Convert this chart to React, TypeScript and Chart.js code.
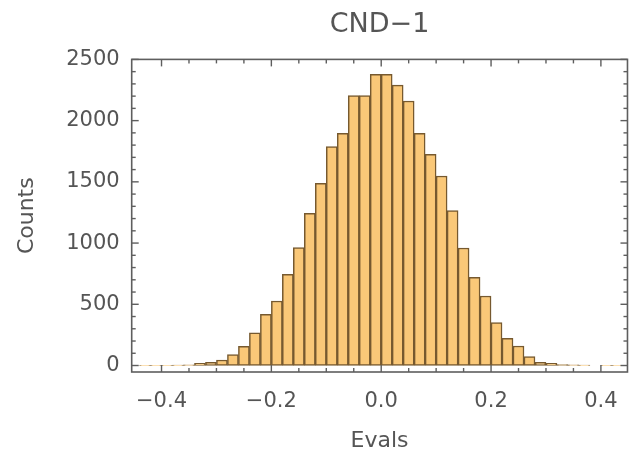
import React, { useEffect, useRef } from "react";
import { Chart, registerables } from "chart.js";

Chart.register(...registerables);

// ---- data ----
const TITLE = "CND−1";
const X_LABEL = "Evals";
const Y_LABEL = "Counts";

// bin centres (bin width 0.02)
const BIN_CENTERS = [
  -0.43, -0.41, -0.39, -0.37, -0.35, -0.33, -0.31, -0.29, -0.27, -0.25, -0.23,
  -0.21, -0.19, -0.17, -0.15, -0.13, -0.11, -0.09, -0.07, -0.05, -0.03, -0.01,
  0.01, 0.03, 0.05, 0.07, 0.09, 0.11, 0.13, 0.15, 0.17, 0.19, 0.21, 0.23, 0.25,
  0.27, 0.29, 0.31, 0.33, 0.35, 0.37, 0.39, 0.41, 0.43,
];
const COUNTS = [
  1, 2, 2, 3, 5, 18, 26, 45, 90, 157, 267,
  418, 527, 745, 963, 1243, 1488, 1788, 1897, 2205, 2205, 2378,
  2378, 2290, 2160, 1897, 1725, 1548, 1265, 960, 720, 568, 350, 222, 159,
  72, 26, 18, 8, 5, 3, 0, 1, 1,
];

const X_MIN = -0.4543;
const X_MAX = 0.4484;
const X_TICKS = [-0.4, -0.2, 0, 0.2, 0.4];
const X_MINOR_TICKS = [-0.35, -0.3, -0.25, -0.15, -0.1, -0.05, 0.05, 0.1, 0.15, 0.25, 0.3, 0.35];

const Y_MIN = -53;
const Y_MAX = 2500;
const Y_TICKS = [0, 500, 1000, 1500, 2000, 2500];
const Y_MINOR_TICKS = [100, 200, 300, 400, 600, 700, 800, 900, 1100, 1200, 1300, 1400, 1600, 1700, 1800, 1900, 2100, 2200, 2300, 2400];

// ---- styles ----
const FONT_FAMILY = "'DejaVu Sans', sans-serif";
const TEXT_COLOR = "#555555";
const FRAME_COLOR = "#5e5e5e";
const BAR_FILL = "#fac878";
const BAR_EDGE = "#76592f";

const fmtX = (v: number) => {
  const r = Math.round(v * 10) / 10;
  const s = Math.abs(r).toFixed(1);
  return r < 0 ? "−" + s : s;
};

const framePlugin = {
  id: "mmaFrame",
  afterDatasetsDraw(chart: any) {
    const { ctx, chartArea, scales } = chart;
    const { left, right, top, bottom } = chartArea;
    const xs = scales.x;
    const ys = scales.y;
    ctx.save();
    ctx.strokeStyle = FRAME_COLOR;
    ctx.lineWidth = 1.6;
    ctx.strokeRect(left, top, right - left, bottom - top);
    const seg = (x1: number, y1: number, x2: number, y2: number) => {
      ctx.beginPath();
      ctx.moveTo(x1, y1);
      ctx.lineTo(x2, y2);
      ctx.stroke();
    };
    const xt = (vals: number[], len: number) =>
      vals.forEach((v) => {
        const p = xs.getPixelForValue(v);
        seg(p, bottom, p, bottom - len);
        seg(p, top, p, top + len);
      });
    const yt = (vals: number[], len: number) =>
      vals.forEach((v) => {
        const p = ys.getPixelForValue(v);
        seg(left, p, left + len, p);
        seg(right, p, right - len, p);
      });
    ctx.lineWidth = 1.4;
    xt(X_TICKS, 7);
    xt(X_MINOR_TICKS, 4);
    yt(Y_TICKS, 7);
    yt(Y_MINOR_TICKS, 4);
    ctx.restore();
  },
};

export default function App() {
  const ref = useRef<HTMLCanvasElement | null>(null);

  useEffect(() => {
    if (!ref.current) return;
    const chart = new Chart(ref.current, {
      type: "bar",
      data: {
        datasets: [
          {
            data: BIN_CENTERS.map((x, i) => ({ x, y: COUNTS[i] })),
            backgroundColor: BAR_FILL,
            borderColor: BAR_EDGE,
            borderWidth: 1.5,
            borderSkipped: false,
            barPercentage: 1,
            categoryPercentage: 1,
          } as any,
        ],
      },
      options: {
        animation: false,
        responsive: false,
        devicePixelRatio: 1,
        layout: { padding: { left: 0, right: 3.3, top: 0, bottom: 0 } },
        plugins: {
          legend: { display: false },
          tooltip: { enabled: false },
          title: {
            display: true,
            text: TITLE,
            fullSize: false,
            color: TEXT_COLOR,
            font: { family: FONT_FAMILY, size: 27, weight: "normal", lineHeight: 1.2 },
            padding: { top: 9, bottom: 18 },
          },
        },
        scales: {
          x: {
            type: "linear",
            min: X_MIN,
            max: X_MAX,
            offset: false,
            afterBuildTicks: (s: any) => {
              s.ticks = X_TICKS.map((v) => ({ value: v }));
            },
            afterFit: (s: any) => {
              s.height = 91;
            },
            grid: { display: false, drawTicks: false },
            border: { display: false },
            ticks: {
              padding: 17,
              color: TEXT_COLOR,
              font: { family: FONT_FAMILY, size: 21 },
              maxRotation: 0,
              autoSkip: false,
              callback: (v: any) => fmtX(Number(v)),
            },
            title: {
              display: true,
              text: X_LABEL,
              color: TEXT_COLOR,
              font: { family: FONT_FAMILY, size: 22, lineHeight: 1.2 },
              padding: { top: 0, bottom: 9 },
            },
          },
          y: {
            type: "linear",
            min: Y_MIN,
            max: Y_MAX,
            afterBuildTicks: (s: any) => {
              s.ticks = Y_TICKS.map((v) => ({ value: v }));
            },
            afterFit: (s: any) => {
              s.width = 131.7;
            },
            grid: { display: false, drawTicks: false },
            border: { display: false },
            ticks: {
              padding: 12,
              color: TEXT_COLOR,
              font: { family: FONT_FAMILY, size: 21 },
              autoSkip: false,
              callback: (v: any) => String(v),
            },
            title: {
              display: true,
              text: Y_LABEL,
              color: TEXT_COLOR,
              font: { family: FONT_FAMILY, size: 22, lineHeight: 1.2 },
              padding: { top: 14, bottom: 0 },
            },
          },
        },
      },
      plugins: [framePlugin],
    } as any);
    return () => chart.destroy();
  }, []);

  return (
    <div style={{ position: "absolute", left: 0, top: 0, width: 635, height: 463, background: "#fff" }}>
      <canvas ref={ref} width={635} height={463} />
    </div>
  );
}
